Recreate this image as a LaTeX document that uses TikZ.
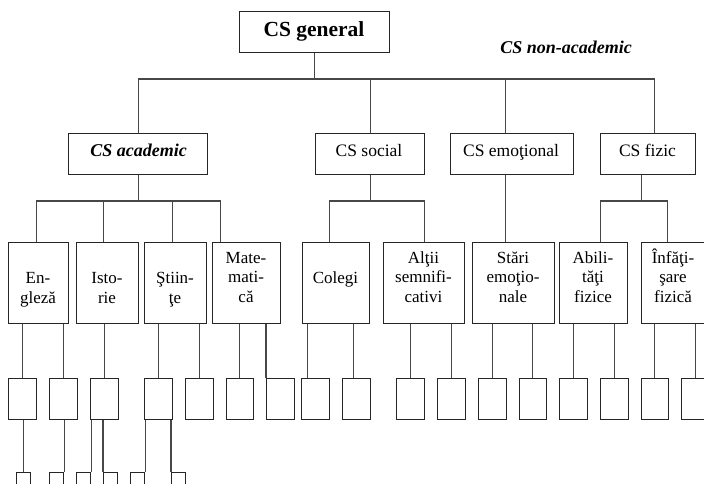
\documentclass[tikz,border=0pt]{standalone}
\usepackage{fontspec}
\setmainfont{Liberation Serif}
\usetikzlibrary{calc}
\begin{document}
\begin{tikzpicture}[x=1pt,y=-1pt,
  conn/.style={draw=black!72, line width=1.1pt},
  box/.style={draw=black!85, line width=1.1pt, fill=white, inner sep=0pt, anchor=north west},
  ttop/.style={inner sep=0pt, anchor=base, font={\fontsize{21.5}{24}\selectfont\bfseries}},
  tbi/.style={inner sep=0pt, anchor=base, font={\fontsize{18}{20}\selectfont\bfseries\itshape}},
  tmid/.style={inner sep=0pt, anchor=base, font={\fontsize{17.5}{20}\selectfont}},
  tleaf/.style={inner sep=0pt, anchor=base, align=center, font={\fontsize{17}{19.4}\selectfont}}
]
\useasboundingbox (0,0) rectangle (704,484);
\fill[white] (0,0) rectangle (704,484);
\clip (0,0) rectangle (704,484);

% ---- boxes ----
\node[box, minimum width=150, minimum height=41] (gen) at (239,11) {};

\node[box, minimum width=139, minimum height=41] (acad) at (68,133) {};
\node[box, minimum width=109, minimum height=41] (soc)  at (315,133) {};
\node[box, minimum width=123, minimum height=41] (emo)  at (450,133) {};
\node[box, minimum width=95,  minimum height=41] (fiz)  at (600,133) {};

\node[box, minimum width=60, minimum height=81] (engl) at (8,242) {};
\node[box, minimum width=62, minimum height=81] (ist)  at (76,242) {};
\node[box, minimum width=62, minimum height=81] (sti)  at (144,242) {};
\node[box, minimum width=68, minimum height=81] (mat)  at (212,242) {};
\node[box, minimum width=67, minimum height=81] (col)  at (302,242) {};
\node[box, minimum width=81, minimum height=81] (alt)  at (383,242) {};
\node[box, minimum width=82, minimum height=81] (sta)  at (472,242) {};
\node[box, minimum width=68, minimum height=81] (abi)  at (559,242) {};
\node[box, minimum width=64, minimum height=81] (inf)  at (641,242) {};

\foreach \i/\x in {1/8, 2/49, 3/90, 4/144, 5/185, 6/225.5, 7/266, 8/301, 9/342,
                   10/396, 11/437, 12/478, 13/518.5, 14/559, 15/600, 16/640.5, 17/681}
  \node[box, minimum width=27.5, minimum height=41] (a\i) at (\x,378) {};

\foreach \i/\x in {1/16, 2/49, 3/76, 4/103, 5/130, 6/171}
  \node[box, minimum width=14, minimum height=30] (b\i) at (\x,472) {};

% ---- texts (base = baseline of the last line) ----
\node[ttop] (genT) at (314,37) {CS general};
\node[tbi]  (nonT) at (566,54) {CS non-academic};
\node[tbi]  (acadT) at (138.5,157) {CS academic};
\node[tmid] (socT) at (369,157) {CS social};
\node[tmid] (emoT) at (511,157) {CS emoţional};
\node[tmid] (fizT) at (647.5,157) {CS fizic};

\node[tleaf] (englT) at (38,303) {En-\\gleză};
\node[tleaf] (istT)  at (107,303) {Isto-\\rie};
\node[tleaf] (stiT)  at (175,303) {Ştiin-\\ţe};
\node[tleaf] (matT)  at (246,302) {Mate-\\mati-\\că};
\node[tleaf] (colT)  at (335.5,283) {Colegi};
\node[tleaf] (altT)  at (423.5,302) {Alţii\\semnifi-\\cativi};
\node[tleaf] (staT)  at (513,302) {Stări\\emoţio-\\nale};
\node[tleaf] (abiT)  at (593,302) {Abili-\\tăţi\\fizice};
\node[tleaf] (infT)  at (673,302) {Înfăţi-\\şare\\fizică};

% ---- connectors: general -> domains ----
\coordinate (busA) at (0,79);
\coordinate (emoIn) at ([xshift=-6.5pt]emo.north);
\coordinate (fizIn) at ([xshift=6.5pt]fiz.north);
\draw[conn] (gen.south) -- (gen.south |- busA);
\draw[conn] (acad.north) |- (fizIn |- busA) -- (fizIn);
\draw[conn] (soc.north) -- (soc.north |- busA);
\draw[conn] (emoIn) -- (emoIn |- busA);

% ---- connectors: domains -> facets ----
\coordinate (busB) at (0,201);
\coordinate (englIn) at ([xshift=-2pt]engl.north);
\coordinate (istIn)  at ([xshift=-4pt]ist.north);
\coordinate (stiIn)  at ([xshift=-3pt]sti.north);
\coordinate (matIn)  at ([xshift=-26pt]mat.north);
\draw[conn] (acad.south) -- (acad.south |- busB);
\draw[conn] (englIn) |- (matIn |- busB) -- (matIn);
\draw[conn] (istIn) -- (istIn |- busB);
\draw[conn] (stiIn) -- (stiIn |- busB);

\coordinate (colIn) at ([xshift=-6.5pt]col.north);
\draw[conn] (soc.south) -- (soc.south |- busB);
\draw[conn] (colIn) |- (alt.north |- busB) -- (alt.north);

\coordinate (emoOut) at ([xshift=-6.5pt]emo.south);
\draw[conn] (emoOut) -- (emoOut |- sta.north);

\coordinate (fizOut) at ([xshift=-6.5pt]fiz.south);
\coordinate (abiIn) at ([xshift=7pt]abi.north);
\coordinate (infIn) at ([xshift=-6pt]inf.north);
\draw[conn] (fizOut) -- (fizOut |- busB);
\draw[conn] (abiIn) |- (infIn |- busB) -- (infIn);

% ---- connectors: facets -> sub-facets ----
\foreach \b/\p in {a1/engl, a2/engl, a3/ist, a4/sti, a5/sti, a6/mat, a10/alt, a11/alt,
                   a12/sta, a13/sta, a14/abi, a15/abi, a16/inf, a17/inf}
  \draw[conn] (\b.north) -- (\b.north |- \p.south);
\draw[conn] (a7.north west) -- (a7.north west |- mat.south);
\coordinate (a8In) at ([xshift=-7.75pt]a8.north);
\coordinate (a9In) at ([xshift=-2.75pt]a9.north);
\draw[conn] (a8In) -- (a8In |- col.south);
\draw[conn] (a9In) -- (a9In |- col.south);

% ---- connectors: sub-facets -> lowest level ----
\draw[conn] (b1.north) -- (b1.north |- a1.south);
\draw[conn] (b2.north east) -- (b2.north east |- a2.south);
\draw[conn] (b3.north east) -- (b3.north east |- a3.south);
\draw[conn] (b4.north west) -- (b4.north west |- a3.south);
\draw[conn] (b5.north east) -- (b5.north east |- a4.south);
\draw[conn] (b6.north west) -- (b6.north west |- a4.south);
\end{tikzpicture}
\end{document}
